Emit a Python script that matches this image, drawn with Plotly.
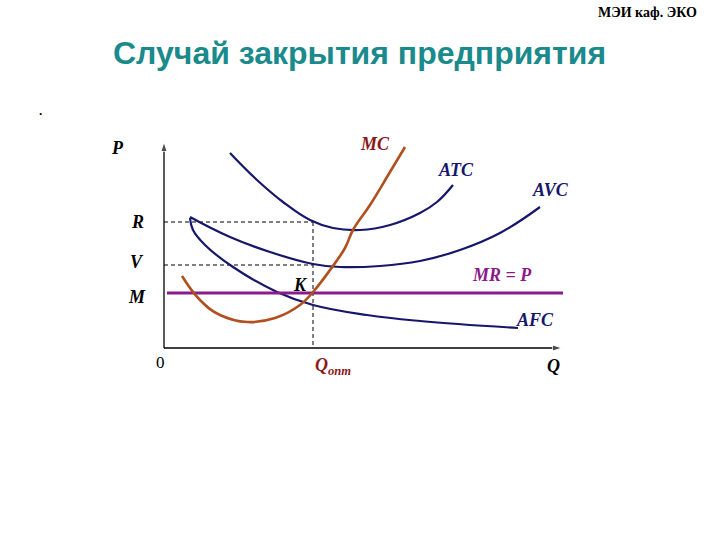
import plotly.graph_objects as go

# Curves in chart units: Q (horizontal), P (vertical)
atc_q = [66, 93, 119, 146, 169, 196, 226, 256, 273, 289]
atc_p = [195, 168, 146, 128, 120, 118, 123, 135, 146, 163]

avc_q = [26, 66, 106, 149, 176, 216, 256, 296, 336, 376]
avc_p = [131, 111, 96, 84, 81, 82, 87, 98, 115, 141]

afc_q = [26, 29, 41, 69, 113, 149, 203, 256, 354]
afc_p = [130, 118, 103, 81, 56, 43, 33, 27, 20]

mc_q = [18, 36, 56, 83, 111, 136, 149, 166, 181, 189, 206, 226, 241]
mc_p = [72, 48, 33, 26, 30, 43, 56, 78, 100, 118, 143, 176, 201]

mr_q = [3, 399]
mr_p = [55, 55]

R_level = 126
V_level = 83
Q_opt = 149
Q_max = 398
P_max = 206

NAVY = "#16166b"
MC_COL = "#b0501e"
PURPLE = "#8c1a8c"
DARKRED = "#8b1a1a"

fig = go.Figure()

def curve(q, p, color, width=2.2):
    fig.add_trace(go.Scatter(x=q, y=p, mode="lines",
                             line=dict(color=color, width=width, shape="spline", smoothing=1.2),
                             hoverinfo="skip", showlegend=False))

# axes with arrow heads
fig.add_trace(go.Scatter(x=[0, 0], y=[0, P_max], mode="lines+markers",
                         line=dict(color="black", width=1.3),
                         marker=dict(symbol="arrow", angleref="previous", size=[0, 10], color="black"),
                         hoverinfo="skip", showlegend=False))
fig.add_trace(go.Scatter(x=[0, Q_max], y=[0, 0], mode="lines+markers",
                         line=dict(color="black", width=1.3),
                         marker=dict(symbol="arrow", angleref="previous", size=[0, 10], color="black"),
                         hoverinfo="skip", showlegend=False))

# dashed guides
for xs, ys in (([0, Q_opt], [R_level, R_level]), ([0, Q_opt], [V_level, V_level]), ([Q_opt, Q_opt], [R_level, 0])):
    fig.add_trace(go.Scatter(x=xs, y=ys, mode="lines", hoverinfo="skip",
                             line=dict(color="black", width=1, dash="4px,3px"), showlegend=False))

curve(atc_q, atc_p, NAVY)
curve(avc_q, avc_p, NAVY)
curve(afc_q, afc_p, NAVY)
fig.add_trace(go.Scatter(x=mr_q, y=mr_p, mode="lines", hoverinfo="skip",
                         line=dict(color=PURPLE, width=3.2), showlegend=False))
curve(mc_q, mc_p, MC_COL, 2.6)

def label(x, y, text, color="black", size=18, italic=True):
    t = f"<b><i>{text}</i></b>" if italic else f"{text}"
    fig.add_annotation(x=x, y=y, text=t, showarrow=False, xref="x", yref="y",
                       xanchor="center", yanchor="middle",
                       font=dict(family="Liberation Serif", size=size, color=color))

label(-47, 200, "P")
label(-27, 126, "R")
label(-27, 86, "V")
label(-27, 51, "M")
label(-4, -14, "0", italic=False, size=17)
label(169, -18, "Q<sub>опт</sub>", color=DARKRED)
label(389, -18, "Q")
label(211, 204, "MC", color=DARKRED)
label(292, 178, "ATC", color=NAVY)
label(386, 158, "AVC", color=NAVY)
label(338, 73, "MR = P", color=PURPLE)
label(371, 28, "AFC", color=NAVY)
label(136, 63, "K")

# header and title (pixel positions converted to paper fractions)
def paper_text(px, py, text, font):
    fig.add_annotation(x=px / 720, y=1 - py / 540, xref="paper", yref="paper", text=text,
                       xanchor="center", yanchor="middle", showarrow=False, font=font)

paper_text(647, 12, "<b>МЭИ каф. ЭКО</b>", dict(family="Liberation Serif", size=14, color="black"))
paper_text(359, 53, "<b>Случай закрытия предприятия</b>", dict(family="Liberation Sans", size=32, color="#1a8a8c"))
paper_text(40, 111, "<b>.</b>", dict(family="Liberation Sans", size=12, color="black"))

fig.update_layout(
    width=720, height=540,
    margin=dict(l=0, r=0, t=0, b=0),
    paper_bgcolor="white", plot_bgcolor="white",
    xaxis=dict(range=[-164, 556], visible=False, fixedrange=True),
    yaxis=dict(range=[-192, 348], visible=False, fixedrange=True),
    hovermode=False,
)

fig.write_html("out.html", config={"displayModeBar": False},
               post_script="document.body.style.margin='0';document.body.style.overflow='hidden';")
